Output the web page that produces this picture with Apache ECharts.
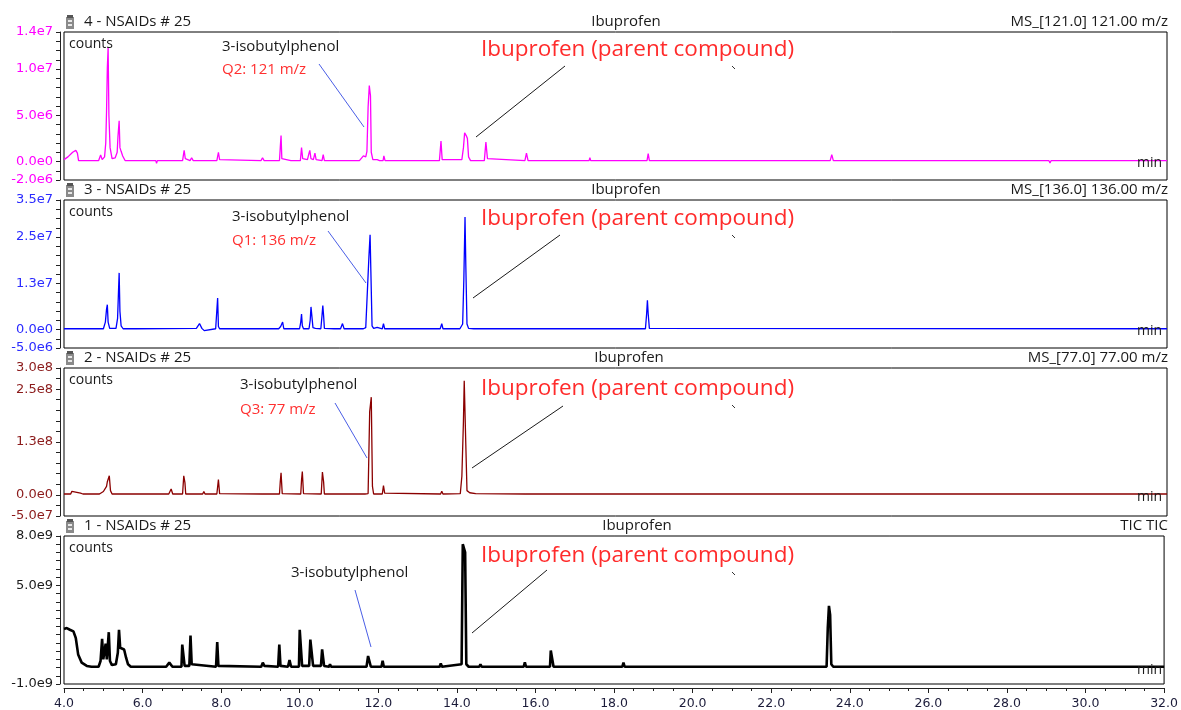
<!DOCTYPE html>
<html>
<head>
<meta charset="utf-8">
<style>
  html, body { margin: 0; padding: 0; background: #ffffff; }
  #chart { width: 1181px; height: 710px; }
</style>
<script src="https://cdn.jsdelivr.net/npm/echarts@6/dist/echarts.min.js"></script>
</head>
<body>
<div id="chart"></div>
<script>
// ---- Retention-time axis (minutes) ----
const timeRange = [4.0, 32.0];

// ---- Trace 4: extracted ion MS_[121.0], [minutes, counts] ----
const ms121Trace = [
  [4.00, 0.2e6], [4.10, 0.5e6], [4.22, 1.0e6], [4.30, 1.2e6], [4.34, 0.9e6], [4.37, 0.1e6],
  [4.88, 0.1e6], [4.93, 0.7e6], [4.97, 0.2e6], [5.03, 0.5e6], [5.06, 2.0e6], [5.08, 5.4e6],
  [5.10, 10.1e6], [5.12, 12.3e6], [5.14, 5.0e6], [5.17, 1.5e6], [5.22, 0.3e6], [5.30, 0.4e6],
  [5.35, 1.0e6], [5.37, 2.7e6], [5.40, 4.4e6], [5.42, 1.5e6], [5.45, 1.1e6], [5.49, 0.6e6], [5.55, 0.1e6],
  [6.33, 0.1e6], [6.35, -0.2e6], [6.37, 0.1e6],
  [7.01, 0.1e6], [7.05, 1.2e6], [7.08, 0.3e6], [7.20, 0.1e6], [7.24, 0.4e6], [7.28, 0.1e6],
  [7.88, 0.1e6], [7.92, 1.0e6], [7.95, 0.2e6],
  [9.00, 0.1e6], [9.04, 0.4e6], [9.08, 0.1e6],
  [9.47, 0.1e6], [9.49, 1.5e6], [9.51, 2.8e6], [9.53, 0.3e6],
  [9.76, 0.1e6], [9.78, 0.3e6], [9.80, 0.1e6],
  [10.00, 0.1e6], [10.03, 1.5e6], [10.06, 0.3e6], [10.18, 0.2e6], [10.22, 0.9e6], [10.24, 1.2e6],
  [10.27, 0.3e6], [10.33, 0.2e6], [10.37, 0.9e6], [10.40, 0.2e6],
  [10.55, 0.1e6], [10.58, 0.75e6], [10.61, 0.1e6],
  [11.50, 0.1e6], [11.60, 0.6e6], [11.66, 0.5e6], [11.69, 1.1e6], [11.72, 5.9e6], [11.75, 8.2e6],
  [11.78, 7.1e6], [11.80, 1.0e6], [11.84, 0.2e6],
  [11.95, 0.2e6], [11.98, 0.4e6], [12.01, 0.1e6],
  [12.10, 0.1e6], [12.12, 0.6e6], [12.15, 0.1e6],
  [12.35, 0.1e6], [12.38, 0.3e6], [12.41, 0.1e6], [12.55, 0.1e6], [12.58, 0.3e6], [12.61, 0.1e6],
  [12.80, 0.1e6], [12.83, 0.3e6], [12.86, 0.1e6], [13.00, 0.1e6], [13.03, 0.3e6], [13.06, 0.1e6],
  [13.20, 0.1e6], [13.23, 0.3e6], [13.26, 0.1e6],
  [13.53, 0.1e6], [13.57, 2.2e6], [13.60, 0.2e6],
  [14.10, 0.2e6], [14.14, 1.5e6], [14.17, 3.1e6], [14.21, 2.8e6], [14.24, 2.5e6], [14.27, 0.5e6], [14.32, 0.1e6],
  [14.67, 0.1e6], [14.71, 2.1e6], [14.75, 0.3e6], [14.80, 0.1e6],
  [15.70, 0.1e6], [15.74, 0.9e6], [15.78, 0.1e6],
  [16.38, 0.1e6], [16.40, 0.3e6], [16.42, 0.1e6],
  [17.33, 0.1e6], [17.35, 0.4e6], [17.37, 0.1e6],
  [18.80, 0.1e6], [18.83, 0.85e6], [18.86, 0.1e6],
  [20.20, 0.1e6], [20.23, 0.2e6], [20.26, 0.1e6],
  [23.45, 0.1e6], [23.49, 0.75e6], [23.53, 0.1e6],
  [29.00, 0.1e6], [29.03, -0.15e6], [29.06, 0.1e6],
  [32.00, 0.1e6]
];

// ---- Trace 3: extracted ion MS_[136.0] ----
const ms136Trace = [
  [4.00, 0.2e6], [4.58, 0.2e6], [4.60, -0.3e6], [4.62, 0.2e6],
  [5.00, 0.2e6], [5.05, 2.0e6], [5.08, 5.5e6], [5.10, 6.7e6], [5.12, 2.0e6], [5.16, 0.3e6],
  [5.32, 0.3e6], [5.36, 3.0e6], [5.38, 9.2e6], [5.40, 15.3e6], [5.42, 4.9e6], [5.45, 1.0e6], [5.50, 0.2e6],
  [5.66, 0.2e6], [5.68, -0.3e6], [5.70, 0.2e6], [5.83, 0.2e6], [5.85, -0.3e6], [5.87, 0.2e6],
  [7.36, 0.3e6], [7.44, 1.6e6], [7.50, 0.3e6], [7.56, -0.3e6], [7.60, 0.2e6],
  [7.85, 0.2e6], [7.88, 5.2e6], [7.90, 8.5e6], [7.92, 0.8e6], [7.95, 0.2e6],
  [8.12, 0.2e6], [8.15, 0.7e6], [8.18, 0.2e6],
  [9.05, 0.2e6], [9.07, 0.5e6], [9.09, 0.2e6],
  [9.45, 0.2e6], [9.50, 0.8e6], [9.55, 2.0e6], [9.58, 0.2e6],
  [9.98, 0.2e6], [10.01, 2.0e6], [10.03, 4.2e6], [10.05, 1.0e6], [10.08, 0.2e6],
  [10.22, 0.2e6], [10.25, 2.5e6], [10.27, 6.1e6], [10.30, 6.1e6], [10.32, 0.5e6], [10.38, 0.3e6],
  [10.52, 0.2e6], [10.55, 3.8e6], [10.57, 6.5e6], [10.59, 3.8e6], [10.61, 0.3e6],
  [10.85, 0.2e6], [10.88, 0.7e6], [10.91, 0.2e6],
  [11.02, 0.2e6], [11.07, 1.6e6], [11.11, 0.2e6],
  [11.60, 0.2e6], [11.66, 0.5e6], [11.70, 0.3e6], [11.74, 19.6e6], [11.77, 25.6e6], [11.79, 15.7e6],
  [11.82, 1.0e6], [11.86, 0.3e6], [11.95, 0.6e6], [12.00, 0.2e6],
  [12.08, 0.2e6], [12.11, 1.6e6], [12.14, 0.2e6],
  [12.60, 0.2e6], [12.62, 0.5e6], [12.64, 0.2e6], [12.78, 0.2e6], [12.80, 0.5e6], [12.82, 0.2e6],
  [13.35, 0.2e6], [13.37, 0.6e6], [13.39, 0.2e6],
  [13.55, 0.2e6], [13.59, 1.6e6], [13.62, 0.2e6],
  [14.05, 0.2e6], [14.12, 1.5e6], [14.15, 13.5e6], [14.18, 30.4e6], [14.20, 17.5e6], [14.23, 1.5e6], [14.27, 0.3e6],
  [14.40, 0.2e6], [14.42, 0.5e6], [14.45, 0.2e6],
  [15.72, 0.2e6], [15.74, 0.5e6], [15.76, 0.2e6],
  [18.76, 0.2e6], [18.79, 4.2e6], [18.81, 7.9e6], [18.83, 4.2e6], [18.86, 0.3e6],
  [32.00, 0.2e6]
];

// ---- Trace 2: extracted ion MS_[77.0] ----
const ms77Trace = [
  [4.00, 0.2e7], [4.17, 0.2e7], [4.20, 0.85e7], [4.23, 0.4e7], [4.42, 0.4e7], [4.45, 0.85e7], [4.48, 0.2e7],
  [4.90, 0.2e7], [5.00, 0.8e7], [5.08, 2.0e7], [5.10, 3.1e7], [5.15, 4.5e7], [5.18, 1.0e7], [5.22, 0.2e7],
  [6.66, 0.2e7], [6.72, 1.4e7], [6.76, 0.2e7],
  [7.01, 0.2e7], [7.04, 4.5e7], [7.07, 2.9e7], [7.09, 0.2e7],
  [7.52, 0.2e7], [7.55, 0.8e7], [7.58, 0.2e7],
  [7.88, 0.2e7], [7.92, 3.6e7], [7.95, 0.3e7],
  [9.03, 0.2e7], [9.06, 0.6e7], [9.09, 0.2e7],
  [9.47, 0.2e7], [9.49, 3.1e7], [9.51, 5.2e7], [9.54, 0.3e7],
  [10.01, 0.2e7], [10.03, 3.5e7], [10.05, 5.5e7], [10.08, 0.3e7],
  [10.53, 0.2e7], [10.56, 5.4e7], [10.59, 3.1e7], [10.61, 0.2e7],
  [10.88, 0.2e7], [10.90, 0.5e7], [10.92, 0.2e7],
  [11.56, 0.2e7], [11.60, 0.6e7], [11.64, 0.2e7],
  [11.72, 0.3e7], [11.74, 1.0e8], [11.76, 1.97e8], [11.80, 2.31e8], [11.83, 0.2e8], [11.86, 0.2e7],
  [12.08, 0.2e7], [12.11, 2.2e7], [12.14, 0.4e7], [12.17, 0.2e7],
  [13.56, 0.2e7], [13.59, 0.85e7], [13.62, 0.2e7],
  [14.06, 0.3e7], [14.10, 4.4e7], [14.14, 1.74e8], [14.16, 2.70e8], [14.20, 1.19e8], [14.23, 1.0e7],
  [14.30, 0.5e7], [14.45, 0.3e7], [14.50, 0.2e7],
  [15.71, 0.2e7], [15.73, 0.4e7], [15.75, 0.2e7],
  [32.00, 0.2e7]
];

// ---- Trace 1: total ion current ----
const ticTrace = [
  [4.00, 2.35e9], [4.07, 2.4e9], [4.15, 2.3e9], [4.24, 2.2e9], [4.30, 1.8e9], [4.36, 0.8e9],
  [4.45, 0.3e9], [4.58, 0.1e9], [4.70, 0.05e9], [4.88, 0.05e9],
  [4.93, 0.4e9], [4.97, 1.75e9], [5.00, 0.5e9], [5.03, 0.45e9], [5.06, 1.45e9], [5.09, 0.5e9],
  [5.12, 0.6e9], [5.14, 2.15e9], [5.17, 0.4e9], [5.22, 0.15e9],
  [5.32, 0.2e9], [5.37, 0.9e9], [5.40, 2.3e9], [5.43, 1.2e9], [5.48, 1.15e9], [5.53, 1.1e9],
  [5.58, 0.6e9], [5.63, 0.2e9], [5.70, 0.05e9],
  [6.60, 0.05e9], [6.68, 0.3e9], [6.72, 0.38e9], [6.76, 0.05e9],
  [6.99, 0.05e9], [7.01, 1.4e9], [7.05, 1.4e9], [7.07, 0.1e9], [7.19, 0.1e9], [7.22, 1.95e9], [7.25, 0.2e9],
  [7.87, 0.05e9], [7.90, 1.55e9], [7.93, 0.1e9],
  [9.02, 0.05e9], [9.06, 0.3e9], [9.10, 0.1e9],
  [9.45, 0.05e9], [9.48, 1.4e9], [9.51, 0.1e9],
  [9.70, 0.05e9], [9.74, 0.45e9], [9.78, 0.05e9],
  [9.98, 0.05e9], [10.00, 2.3e9], [10.04, 2.3e9], [10.06, 0.1e9],
  [10.24, 0.1e9], [10.27, 1.7e9], [10.31, 1.7e9], [10.34, 0.1e9],
  [10.54, 0.1e9], [10.57, 1.1e9], [10.60, 1.05e9], [10.62, 0.1e9],
  [10.75, 0.05e9], [10.77, 0.2e9], [10.80, 0.05e9],
  [11.70, 0.05e9], [11.74, 0.7e9], [11.78, 0.7e9], [11.81, 0.05e9],
  [12.08, 0.05e9], [12.11, 0.42e9], [12.14, 0.05e9],
  [13.56, 0.05e9], [13.59, 0.25e9], [13.62, 0.05e9],
  [14.12, 0.2e9], [14.15, 7.5e9], [14.18, 7.5e9], [14.21, 7.0e9], [14.24, 0.2e9], [14.30, 0.05e9],
  [14.57, 0.05e9], [14.60, 0.2e9], [14.63, 0.05e9],
  [15.70, 0.05e9], [15.73, 0.32e9], [15.76, 0.05e9],
  [16.37, 0.05e9], [16.39, 1.04e9], [16.44, 1.0e9], [16.46, 0.05e9],
  [18.21, 0.05e9], [18.24, 0.3e9], [18.27, 0.05e9],
  [23.41, 0.05e9], [23.44, 2.4e9], [23.47, 3.75e9], [23.50, 3.2e9], [23.53, 0.2e9], [23.58, 0.05e9],
  [24.44, 0.05e9], [24.46, 0.12e9], [24.48, 0.05e9],
  [32.00, 0.05e9]
];

// ---- Labelled intensity ticks for each trace ----
const ms121TickValues = [1.4e7, 1.0e7, 5.0e6, 0, -2.0e6];
const ms121TickLabels = ['1.4e7', '1.0e7', '5.0e6', '0.0e0', '-2.0e6'];
const ms136TickValues = [3.5e7, 2.5e7, 1.25e7, 0, -5.0e6];
const ms136TickLabels = ['3.5e7', '2.5e7', '1.3e7', '0.0e0', '-5.0e6'];
const ms77TickValues = [3.0e8, 2.5e8, 1.25e8, 0, -5.0e7];
const ms77TickLabels = ['3.0e8', '2.5e8', '1.3e8', '0.0e0', '-5.0e7'];
const ticTickValues = [8.0e9, 5.0e9, -1.0e9];
const ticTickLabels = ['8.0e9', '5.0e9', '-1.0e9'];

// ---- Panel headers and annotations ----
const headerLeft = ['4 - NSAIDs # 25', '3 - NSAIDs # 25', '2 - NSAIDs # 25', '1 - NSAIDs # 25'];
const headerMid = ['Ibuprofen', 'Ibuprofen', 'Ibuprofen', 'Ibuprofen'];
const headerRight = ['MS_[121.0] 121.00 m/z', 'MS_[136.0] 136.00 m/z', 'MS_[77.0] 77.00 m/z', 'TIC TIC'];
const ionLabels = ['Q2: 121 m/z', 'Q1: 136 m/z', 'Q3: 77 m/z', ''];
const metaboliteName = '3-isobutylphenol';
const parentName = 'Ibuprofen (parent compound)';

const traces = [ms121Trace, ms136Trace, ms77Trace, ticTrace];
const tickValues = [ms121TickValues, ms136TickValues, ms77TickValues, ticTickValues];
const tickLabels = [ms121TickLabels, ms136TickLabels, ms77TickLabels, ticTickLabels];

// Layout / styling of the four stacked panels
const panelStyle = [
  { top: 32,  min: -2e6, max: 1.4e7, step: 1e6,   line: '#ff00ff', lw: 1.3, label: '#ff00ff' },
  { top: 200, min: -5e6, max: 3.5e7, step: 2.5e6, line: '#0000ff', lw: 1.3, label: '#2a2aff' },
  { top: 368, min: -5e7, max: 3.0e8, step: 2.5e7, line: '#8b0000', lw: 1.3, label: '#8b1a1a' },
  { top: 536, min: -1e9, max: 8.0e9, step: 5e8,   line: '#000000', lw: 2.6, label: '#1a1a1a' }
];
const PANEL_H = 148;
const GRID_LEFT = 64;
const GRID_RIGHT = 14;

const SMALL_FONT = '"Open Sans", "Noto Sans", sans-serif';
const AXIS_FONT = '"DejaVu Sans", sans-serif';

const chart = echarts.init(document.getElementById('chart'), null, { renderer: 'canvas' });

const grids = [], xAxes = [], yAxes = [], series = [];
panelStyle.forEach((p, i) => {
  const last = i === panelStyle.length - 1;
  grids.push({
    left: GRID_LEFT, right: GRID_RIGHT, top: p.top, height: PANEL_H,
    show: true, borderColor: '#000', borderWidth: 1, backgroundColor: '#fff'
  });
  xAxes.push({
    type: 'value', gridIndex: i, min: timeRange[0], max: timeRange[1], interval: 2,
    show: last, position: 'bottom', offset: 4,
    axisLine: { show: true, onZero: false, lineStyle: { color: '#222', width: 1 } },
    axisTick: { show: true, length: 5, lineStyle: { color: '#222' } },
    minorTick: { show: true, splitNumber: 4, length: 3, lineStyle: { color: '#222' } },
    splitLine: { show: false },
    axisLabel: {
      show: last, margin: 9, color: '#1c1c3a', fontFamily: AXIS_FONT, fontSize: 12.5,
      formatter: v => v.toFixed(1)
    }
  });
  const tv = tickValues[i], tl = tickLabels[i];
  yAxes.push({
    type: 'value', gridIndex: i, min: p.min, max: p.max, interval: p.step,
    position: 'left', offset: 4,
    axisLine: { show: true, onZero: false, lineStyle: { color: '#222', width: 1 } },
    axisTick: { show: true, length: 4, lineStyle: { color: '#222' } },
    splitLine: { show: false },
    axisLabel: {
      show: true, margin: 7, color: p.label, fontFamily: AXIS_FONT, fontSize: 13,
      showMinLabel: true, showMaxLabel: true,
      formatter: v => {
        const k = tv.findIndex(t => Math.abs(t - v) < p.step * 1e-3);
        return k >= 0 ? tl[k] : '';
      }
    }
  });
  series.push({
    type: 'line', xAxisIndex: i, yAxisIndex: i, data: traces[i],
    showSymbol: false, symbol: 'none', clip: true, animation: false,
    lineStyle: { color: p.line, width: p.lw, join: 'bevel' },
    emphasis: { disabled: true }
  });
});

chart.setOption({
  backgroundColor: '#ffffff',
  animation: false,
  grid: grids, xAxis: xAxes, yAxis: yAxes, series: series
});

// ---- Text, leader lines and header decorations ----
function txt(text, x, y, size, color, align, family) {
  return {
    type: 'text', silent: true, z: 100,
    style: {
      text: text, x: x, y: y, fill: color,
      font: size + 'px ' + (family || SMALL_FONT),
      align: align || 'left', verticalAlign: 'middle',
      textAlign: align || 'left', textVerticalAlign: 'middle'
    }
  };
}
function seg(x1, y1, x2, y2, color, w) {
  return {
    type: 'line', silent: true, z: 100,
    shape: { x1: x1, y1: y1, x2: x2, y2: y2 },
    style: { stroke: color, lineWidth: w || 1 }
  };
}
function vialIcon(x, y) {
  return {
    type: 'group', x: x, y: y, silent: true, z: 100,
    children: [
      { type: 'rect', shape: { x: 0, y: 2, width: 8, height: 12 }, style: { fill: '#8a8a8a' } },
      { type: 'rect', shape: { x: 1, y: 0, width: 6, height: 3 }, style: { fill: '#555' } },
      { type: 'rect', shape: { x: 2, y: 5, width: 4, height: 2 }, style: { fill: '#e8e8e8' } },
      { type: 'rect', shape: { x: 2, y: 9, width: 4, height: 2 }, style: { fill: '#e8e8e8' } }
    ]
  };
}

// annotation anchors per panel (pixel layout)
const metaboliteText = [[222, 47], [232, 217], [240, 385], [291, 573]];
const ionText = [[222, 70], [232, 241], [240, 410], null];
const metaboliteLeader = [[319, 64, 364, 127], [328, 231, 366, 283], [335, 403, 367, 458], [355, 590, 371, 647]];
const parentText = [[481, 50], [481, 219], [481, 389], [481, 556]];
const parentLeader = [[565, 66, 476, 137], [560, 235, 473, 298], [563, 406, 472, 468], [547, 570, 472, 633]];
const headerMidX = [626, 626, 629, 637];

const graphics = [];
panelStyle.forEach((p, i) => {
  const top = p.top;
  const hy = top - 10;
  graphics.push(vialIcon(66, hy - 7));
  graphics.push(txt(headerLeft[i], 84, hy, 15, '#1a1a1a'));
  graphics.push(txt(headerMid[i], headerMidX[i], hy, 15, '#1a1a1a', 'center'));
  graphics.push(txt(headerRight[i], 1168, hy, 15, '#1a1a1a', 'right'));
  graphics.push(txt('counts', 69, top + 12, 14, '#1a1a1a'));

  const zeroY = chart.convertToPixel({ yAxisIndex: i }, 0);
  graphics.push(txt('min', 1137, zeroY + 2, 14, '#1a1a1a'));

  const mt = metaboliteText[i];
  graphics.push(txt(metaboliteName, mt[0], mt[1], 15, '#1a1a1a'));
  if (ionText[i]) graphics.push(txt(ionLabels[i], ionText[i][0], ionText[i][1], 15, '#ff3030'));
  const ml = metaboliteLeader[i];
  graphics.push(seg(ml[0], ml[1], ml[2], ml[3], '#4a5ee6', 1));

  const pt = parentText[i];
  graphics.push(txt(parentName, pt[0], pt[1], 22.5, '#ff2b2b'));
  const pl = parentLeader[i];
  graphics.push(seg(pl[0], pl[1], pl[2], pl[3], '#1a1a1a', 1));
  graphics.push(seg(732, pt[1] + 16, 735, pt[1] + 19, '#333', 1));
});

chart.setOption({ graphic: { elements: graphics } });
</script>
</body>
</html>
